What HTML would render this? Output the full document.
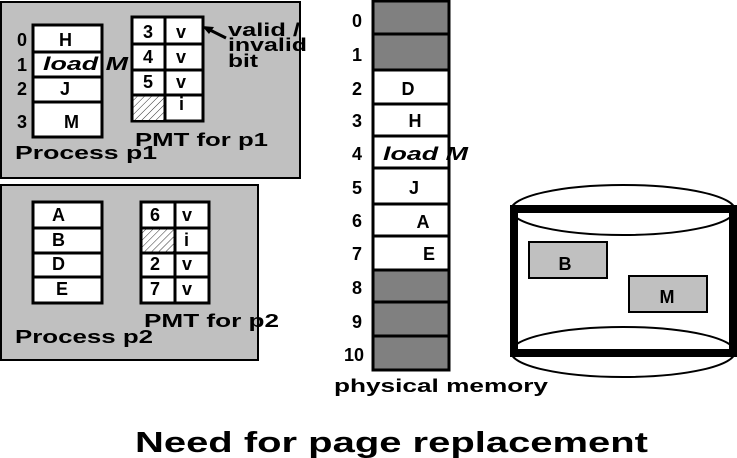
<!DOCTYPE html>
<html><head><meta charset="utf-8"><style>
html,body{margin:0;padding:0;background:#fff;}
svg{display:block;}
text{font-family:"Liberation Sans",sans-serif;font-weight:bold;fill:#000;}
</style></head><body>
<svg width="737" height="458" viewBox="0 0 737 458" xmlns="http://www.w3.org/2000/svg">
<defs>
<pattern id="h" width="5" height="5" patternUnits="userSpaceOnUse" patternTransform="rotate(45)">
<rect width="5" height="5" fill="#fff"/><line x1="0" y1="0" x2="0" y2="5" stroke="#000" stroke-width="0.8"/>
</pattern>
</defs>
<!-- Process p1 -->
<rect x="1" y="2" width="299" height="176" fill="#c0c0c0" stroke="#000" stroke-width="2"/>
<rect x="33" y="25" width="69" height="112" fill="#fff" stroke="#000" stroke-width="3"/>
<line x1="33" y1="52" x2="102" y2="52" stroke="#000" stroke-width="3"/>
<line x1="33" y1="77" x2="102" y2="77" stroke="#000" stroke-width="3"/>
<line x1="33" y1="102" x2="102" y2="102" stroke="#000" stroke-width="3"/>
<g font-size="18">
<text x="17" y="46">0</text><text x="17" y="71">1</text><text x="17" y="95">2</text><text x="17" y="128">3</text>
<text x="59" y="46">H</text>
<text x="43" y="70" font-style="italic" textLength="85" lengthAdjust="spacingAndGlyphs">load M</text>
<text x="60" y="95">J</text>
<text x="64" y="128">M</text>
</g>
<rect x="132" y="17" width="71" height="104" fill="#fff" stroke="#000" stroke-width="3"/>
<rect x="133.5" y="96" width="31" height="24" fill="url(#h)"/>
<line x1="165" y1="17" x2="165" y2="121" stroke="#000" stroke-width="3"/>
<line x1="132" y1="44" x2="203" y2="44" stroke="#000" stroke-width="3"/>
<line x1="132" y1="70" x2="203" y2="70" stroke="#000" stroke-width="3"/>
<line x1="132" y1="95" x2="203" y2="95" stroke="#000" stroke-width="3"/>
<g font-size="18">
<text x="143" y="38">3</text><text x="143" y="63">4</text><text x="143" y="88">5</text>
<text x="176" y="38">v</text><text x="176" y="63">v</text><text x="176" y="88">v</text><text x="179" y="110">i</text>
<text x="228" y="36" textLength="72" lengthAdjust="spacingAndGlyphs">valid /</text>
<text x="228" y="51" textLength="79" lengthAdjust="spacingAndGlyphs">invalid</text>
<text x="228" y="67" textLength="30" lengthAdjust="spacingAndGlyphs">bit</text>
<text x="135" y="146" textLength="133" lengthAdjust="spacingAndGlyphs">PMT for p1</text>
<text x="15" y="159" textLength="142" lengthAdjust="spacingAndGlyphs">Process p1</text>
</g>
<line x1="226" y1="38" x2="208" y2="29" stroke="#000" stroke-width="3"/>
<polygon points="202,26 214,27 209,34" fill="#000"/>
<!-- Process p2 -->
<rect x="1" y="185" width="257" height="175" fill="#c0c0c0" stroke="#000" stroke-width="2"/>
<rect x="33" y="202" width="69" height="101" fill="#fff" stroke="#000" stroke-width="3"/>
<line x1="33" y1="228" x2="102" y2="228" stroke="#000" stroke-width="3"/>
<line x1="33" y1="253" x2="102" y2="253" stroke="#000" stroke-width="3"/>
<line x1="33" y1="277" x2="102" y2="277" stroke="#000" stroke-width="3"/>
<rect x="141" y="202" width="68" height="101" fill="#fff" stroke="#000" stroke-width="3"/>
<rect x="142.5" y="229" width="32" height="23" fill="url(#h)"/>
<line x1="175" y1="202" x2="175" y2="303" stroke="#000" stroke-width="3"/>
<line x1="141" y1="228" x2="209" y2="228" stroke="#000" stroke-width="3"/>
<line x1="141" y1="253" x2="209" y2="253" stroke="#000" stroke-width="3"/>
<line x1="141" y1="277" x2="209" y2="277" stroke="#000" stroke-width="3"/>
<g font-size="18">
<text x="52" y="221">A</text><text x="52" y="246">B</text><text x="52" y="270">D</text><text x="56" y="295">E</text>
<text x="150" y="221">6</text><text x="182" y="221">v</text><text x="184" y="246">i</text>
<text x="150" y="270">2</text><text x="182" y="270">v</text>
<text x="150" y="295">7</text><text x="182" y="295">v</text>
<text x="144" y="327" textLength="135" lengthAdjust="spacingAndGlyphs">PMT for p2</text>
<text x="15" y="343" textLength="138" lengthAdjust="spacingAndGlyphs">Process p2</text>
</g>
<!-- physical memory -->
<rect x="373" y="1" width="76" height="369" fill="#fff" stroke="#000" stroke-width="3"/>
<g fill="#808080" stroke="#000" stroke-width="3">
<rect x="373" y="1" width="76" height="33"/>
<rect x="373" y="34" width="76" height="36"/>
<rect x="373" y="270" width="76" height="32"/>
<rect x="373" y="302" width="76" height="34"/>
<rect x="373" y="336" width="76" height="34"/>
</g>
<g stroke="#000" stroke-width="3">
<line x1="373" y1="104" x2="449" y2="104"/><line x1="373" y1="136" x2="449" y2="136"/>
<line x1="373" y1="168" x2="449" y2="168"/><line x1="373" y1="204" x2="449" y2="204"/>
<line x1="373" y1="236" x2="449" y2="236"/>
</g>
<g font-size="18" text-anchor="middle">
<text x="357" y="27">0</text><text x="357" y="61">1</text><text x="357" y="95">2</text>
<text x="357" y="127">3</text><text x="357" y="160">4</text><text x="357" y="194">5</text>
<text x="357" y="227">6</text><text x="357" y="260">7</text><text x="357" y="294">8</text>
<text x="357" y="328">9</text><text x="354" y="361">10</text>
<text x="408" y="95">D</text><text x="415" y="127">H</text><text x="414" y="194">J</text>
<text x="423" y="228">A</text><text x="429" y="260">E</text>
</g>
<text x="383" y="160" font-size="18" font-style="italic" textLength="85" lengthAdjust="spacingAndGlyphs">load M</text>
<text x="334" y="392" font-size="18" textLength="214" lengthAdjust="spacingAndGlyphs">physical memory</text>
<!-- disk -->
<ellipse cx="623" cy="210" rx="112" ry="25" fill="none" stroke="#000" stroke-width="2"/>
<ellipse cx="623" cy="352" rx="112" ry="25" fill="none" stroke="#000" stroke-width="2"/>
<rect x="514" y="209" width="219" height="144" fill="none" stroke="#000" stroke-width="8"/>
<rect x="529" y="242" width="78" height="36" fill="#c0c0c0" stroke="#000" stroke-width="2"/>
<rect x="629" y="276" width="78" height="36" fill="#c0c0c0" stroke="#000" stroke-width="2"/>
<text x="565" y="270" font-size="18" text-anchor="middle">B</text>
<text x="667" y="303" font-size="18" text-anchor="middle">M</text>
<!-- title -->
<text x="135" y="452" font-size="29" textLength="513" lengthAdjust="spacingAndGlyphs">Need for page replacement</text>
</svg>
</body></html>
